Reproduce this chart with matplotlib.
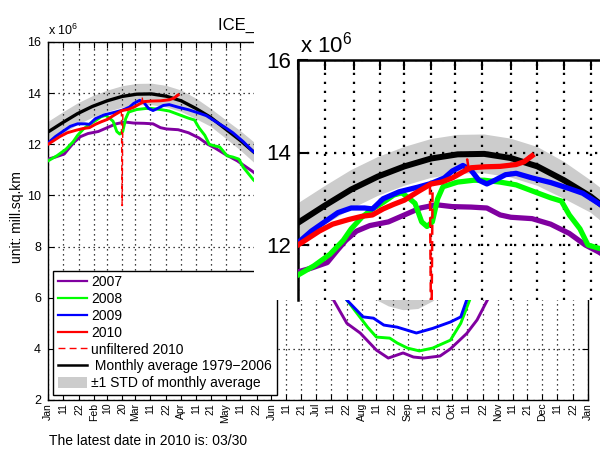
import matplotlib
matplotlib.use('Agg')
import matplotlib.pyplot as plt
import numpy as np
from matplotlib.lines import Line2D
from matplotlib.patches import Patch

plt.rcParams['font.family'] = ['Liberation Sans', 'DejaVu Sans']
plt.rcParams['mathtext.fontset'] = 'custom'
plt.rcParams['mathtext.rm'] = 'Liberation Sans'
plt.rcParams['mathtext.it'] = 'Liberation Sans:italic'
plt.rcParams['mathtext.bf'] = 'Liberation Sans:bold'

# ---------------- data (x = day of year, y = million sq km) ----------------
tick_days = [0, 10, 21, 31, 40, 50, 59, 69, 80, 90, 100, 110, 120, 130, 141, 151,
             161, 171, 181, 191, 202, 212, 222, 233, 243, 253, 263, 273, 283, 294,
             304, 314, 324, 334, 344, 355, 365]
tick_labels = ['Jan', '11', '22', 'Feb', '10', '20', 'Mar', '11', '22', 'Apr', '11',
               '21', 'May', '11', '22', 'Jun', '11', '21', 'Jul', '11', '22', 'Aug',
               '11', '22', 'Sep', '11', '21', 'Oct', '11', '22', 'Nov', '11', '21',
               'Dec', '11', '22', 'Jan']
y_ticks = [2, 4, 6, 8, 10, 12, 14, 16]

avg_days = [0, 10, 20, 30, 40, 50, 60, 70, 80, 90, 100, 110, 120, 130, 140, 150, 160,
            170, 180, 190, 200, 210, 220, 230, 240, 250, 260, 270, 280, 290, 300, 310,
            320, 330, 340, 350, 365]
avg_vals = [12.48, 12.85, 13.2, 13.48, 13.7, 13.87, 13.96, 13.97, 13.88, 13.7, 13.4,
            13.05, 12.6, 12.15, 11.65, 11.1, 10.5, 9.9, 9.2, 8.5, 7.9, 7.35, 6.75, 6.45,
            6.3, 6.35, 6.65, 7.2, 7.9, 8.7, 9.5, 10.1, 10.6, 11.0, 11.4, 11.8, 12.4]
avg_std = [0.42, 0.42, 0.42, 0.42, 0.42, 0.42, 0.42, 0.42, 0.42, 0.42, 0.4, 0.35, 0.36,
           0.38, 0.4, 0.42, 0.45, 0.5, 0.55, 0.6, 0.65, 0.7, 0.77, 0.77, 0.77, 0.77,
           0.77, 0.76, 0.74, 0.7, 0.65, 0.6, 0.55, 0.5, 0.46, 0.44, 0.42]

days_2007 = [0, 5, 11, 15, 18, 22, 27, 34, 40, 46, 52, 58, 65, 71, 76, 80, 88, 95, 102,
             108, 113, 120, 128, 138, 150, 165, 180, 190, 193, 202, 211, 222, 230, 236,
             240, 247, 254, 265, 272, 283, 290, 297, 310, 330, 350, 365]
ext_2007 = [11.42, 11.5, 11.62, 11.9, 12.1, 12.3, 12.42, 12.5, 12.65, 12.8, 12.87,
            12.83, 12.82, 12.8, 12.65, 12.6, 12.57, 12.45, 12.25, 12.0, 11.85, 11.6,
            11.35, 10.95, 10.4, 9.3, 7.6, 6.4, 5.91, 5.0, 4.62, 3.95, 3.64, 3.76, 3.84,
            3.68, 3.64, 3.72, 4.0, 4.6, 5.13, 5.91, 7.5, 9.3, 10.6, 11.4]

days_2008 = [0, 6, 12, 17, 20, 24, 28, 32, 36, 39, 42, 44, 46.5, 48.5, 50.5, 52.5, 54.5,
             60, 66, 70, 76, 82, 88, 95, 99, 102, 106, 109, 113, 116, 121, 125, 129,
             132, 139, 142, 160, 180, 195, 202, 216, 222, 231, 236, 243, 251, 260, 272,
             279, 285, 300, 330, 365]
ext_2008 = [11.35, 11.55, 11.8, 12.1, 12.35, 12.6, 12.78, 12.92, 13.08, 13.13, 13.0,
            12.9, 12.5, 12.4, 12.5, 13.0, 13.26, 13.36, 13.4, 13.4, 13.36, 13.3, 13.17,
            13.02, 12.95, 12.65, 12.35, 12.0, 11.93, 11.9, 11.55, 11.5, 11.42, 11.1,
            10.6, 10.45, 9.6, 8.0, 6.5, 5.91, 4.85, 4.46, 4.42, 4.23, 4.03, 3.92, 4.03,
            4.34, 5.0, 5.91, 8.0, 10.5, 11.7]

days_2009 = [0, 5, 10, 15, 20, 25, 28, 32, 38, 45, 50, 55, 58, 62, 65, 68, 71, 74, 78,
             82, 88, 95, 102, 107, 113, 120, 125, 132, 138, 141, 160, 180, 195, 202,
             213, 220, 227, 236, 249, 260, 272, 279, 283, 300, 330, 365]
ext_2009 = [12.05, 12.3, 12.5, 12.7, 12.8, 12.8, 12.78, 13.0, 13.15, 13.25, 13.33,
            13.45, 13.6, 13.72, 13.62, 13.4, 13.32, 13.4, 13.52, 13.55, 13.45, 13.35,
            13.22, 13.12, 12.9, 12.65, 12.45, 12.1, 11.75, 11.62, 10.8, 8.5, 6.5, 5.91,
            5.25, 5.2, 4.93, 4.85, 4.62, 4.8, 5.05, 5.25, 5.91, 8.5, 10.8, 12.0]

days_2010 = [0, 4, 8, 13, 19, 24, 28, 32, 36, 40, 45, 50, 54, 58, 62, 65, 70, 76, 82,
             85, 88]
ext_2010 = [12.0, 12.15, 12.3, 12.45, 12.55, 12.62, 12.65, 12.78, 12.88, 12.97, 13.15,
            13.32, 13.36, 13.45, 13.58, 13.67, 13.69, 13.7, 13.74, 13.8, 13.93]

days_2010_raw = [0, 4, 8, 13, 19, 24, 28, 32, 36, 40, 45, 49.6, 50.1, 50.6, 54, 58, 62,
                 63, 63.6, 64.2, 65, 70, 76, 82, 85, 88.5]
ext_2010_raw = [12.0, 12.15, 12.3, 12.45, 12.55, 12.62, 12.65, 12.78, 12.88, 12.97,
                13.15, 13.3, 9.6, 13.33, 13.36, 13.45, 13.58, 13.62, 13.85, 13.64, 13.67,
                13.69, 13.7, 13.74, 13.8, 14.0]

legend_labels = ['2007', '2008', '2009', '2010', 'unfiltered 2010',
                 ' Monthly average 1979\u22122006', '\u00b11 STD of monthly average']

c07, c08, c09, c10 = '#8000A0', '#00FF00', '#0000FF', '#FF0000'
cband = '#CCCCCC'

W, H = 600.0, 450.0
def fx(px):
    return px / W
def fy(py):
    return 1 - py / H

fig = plt.figure(figsize=(6, 4.5), dpi=100)


def draw(ax, s):
    lo = np.array(avg_vals) - np.array(avg_std)
    hi = np.array(avg_vals) + np.array(avg_std)
    ax.fill_between(avg_days, lo, hi, color=cband, lw=0, zorder=1)
    ax.plot(avg_days, avg_vals, color='k', lw=2.4 * s, zorder=3)
    ax.plot(days_2007, ext_2007, color=c07, lw=2.1 * s, zorder=4)
    ax.plot(days_2008, ext_2008, color=c08, lw=2.1 * s, zorder=5)
    ax.plot(days_2009, ext_2009, color=c09, lw=2.1 * s, zorder=6)
    ax.plot(days_2010, ext_2010, color=c10, lw=2.1 * s, zorder=7)
    ax.plot(days_2010_raw, ext_2010_raw, color=c10, lw=1.0 * s,
            ls=(0, (4, 2.5)), zorder=8)
    ax.set_xticks(tick_days)
    ax.grid(True, color='k', ls=(0, (1, 3)), lw=0.9 * s)
    ax.set_axisbelow('line')


# ---------------- main axes ----------------
ax = fig.add_axes([fx(48), fy(400), fx(588) - fx(48), fy(42) - fy(400)])
draw(ax, 1.0)
ax.set_xlim(0, 365)
ax.set_ylim(2, 16)
ax.set_xticklabels(tick_labels, rotation=90, fontsize=7.5)
ax.set_yticks(y_ticks)
ax.set_yticklabels([str(v) for v in y_ticks], fontsize=9)
ax.tick_params(direction='in', top=True, right=True, length=4, width=0.8)
ax.tick_params(axis='x', pad=2)
ax.tick_params(axis='y', pad=5)
for sp in ax.spines.values():
    sp.set_linewidth(1.0)

handles = [Line2D([], [], color=c07, lw=1.6), Line2D([], [], color=c08, lw=1.6),
           Line2D([], [], color=c09, lw=1.6), Line2D([], [], color=c10, lw=1.6),
           Line2D([], [], color=c10, lw=1.0, ls=(0, (5, 3))),
           Line2D([], [], color='k', lw=1.8), Patch(facecolor=cband, edgecolor='none')]
leg = ax.legend(handles, legend_labels, loc='lower left',
                bbox_to_anchor=(fx(53), fy(395)), bbox_transform=fig.transFigure,
                borderaxespad=0, fancybox=False, edgecolor='k', framealpha=1,
                fontsize=10, handlelength=2.1, handletextpad=0.3, labelspacing=0.2,
                borderpad=0.35, handleheight=0.85)
leg.get_frame().set_linewidth(1.0)

ax.text(fx(218), fy(30), 'ICE_EXTENT (AMSR-E)', transform=fig.transFigure,
        fontsize=12, va='baseline')
ax.text(fx(48), fy(35), r'x 10$^6$', transform=fig.transFigure, fontsize=9,
        va='baseline')
fig.text(fx(17.5), fy(217.5), 'unit: mill.sq.km', rotation=90, ha='center',
         va='center', fontsize=10)
fig.text(fx(49), fy(445), 'The latest date in 2010 is: 03/30', fontsize=10,
         va='baseline')

# ---------------- magnified inset ----------------
bg = fig.add_axes([fx(254), fy(300), fx(600) - fx(254), fy(0) - fy(300)])
bg.set_facecolor('white')
bg.set_xticks([])
bg.set_yticks([])
for sp in bg.spines.values():
    sp.set_visible(False)

ax2 = fig.add_axes([fx(298), fy(300), fx(600) - fx(298), fy(60) - fy(300)])
ax2.set_facecolor('none')
draw(ax2, 1.8)
ax2.set_xlim(0, 302 / 2.66)
ax2.set_ylim(16 - 240 / 46.25, 16)
ax2.set_yticks([12, 14, 16])
ax2.set_yticklabels(['12', '14', '16'], fontsize=16)
ax2.tick_params(direction='in', top=True, bottom=False, right=False,
                labelbottom=False, length=7, width=1.5, pad=5)
ax2.spines['bottom'].set_visible(False)
ax2.spines['right'].set_visible(False)
ax2.spines['left'].set_linewidth(1.8)
ax2.spines['top'].set_linewidth(1.8)
ax2.text(fx(300), fy(52), r'x 10$^6$', transform=fig.transFigure, fontsize=16,
         va='baseline')

fig.savefig('out.png', dpi=100)
